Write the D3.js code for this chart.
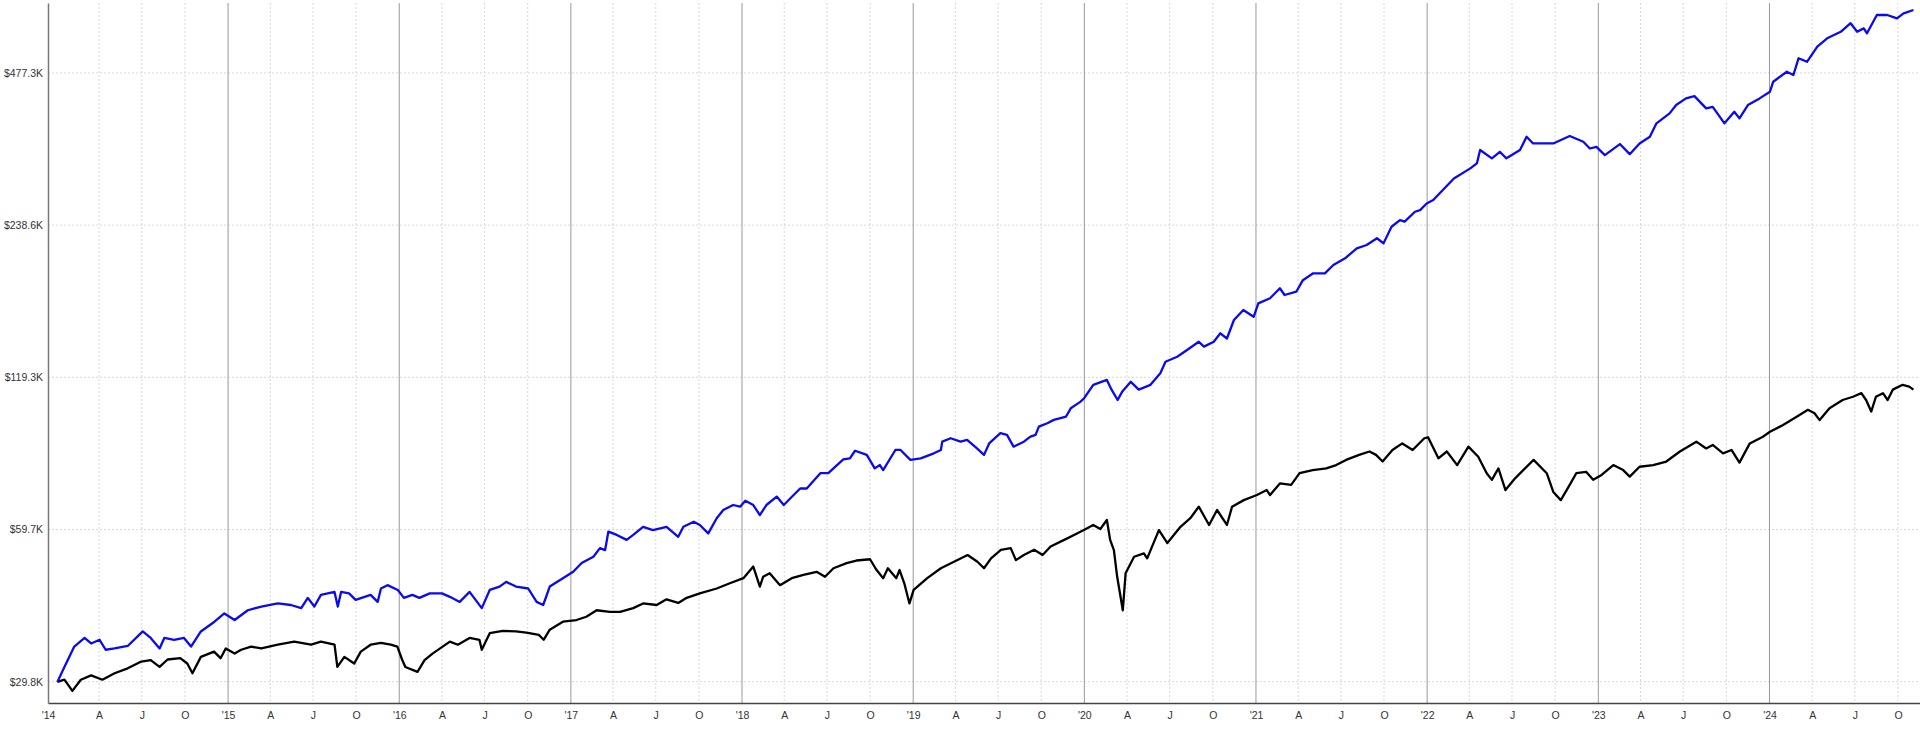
<!DOCTYPE html>
<html>
<head>
<meta charset="utf-8">
<script src="https://cdnjs.cloudflare.com/ajax/libs/d3/7.8.5/d3.min.js"></script>
<style>
  body { margin: 0; background: #fff; }
  svg { display: block; }
  .axis text { font-family: "Liberation Sans", Arial, sans-serif; font-size: 10.5px; fill: #333; }
</style>
</head>
<body>
<div id="chart"></div>
<script>
// values in $K
var portfolio = [
  ["2014-01-02",29.8],["2014-01-17",31.9],["2014-02-07",35.0],["2014-03-01",36.4],["2014-03-15",35.5],
  ["2014-04-02",36.1],["2014-04-15",34.5],["2014-05-04",34.7],["2014-06-01",35.1],["2014-07-03",37.5],
  ["2014-07-20",36.4],["2014-08-08",34.7],["2014-08-18",36.4],["2014-09-08",36.1],["2014-09-29",36.4],
  ["2014-10-14",35.0],["2014-11-04",37.5],["2014-12-03",39.2],["2014-12-24",40.7],["2015-01-15",39.5],
  ["2015-02-12",41.3],["2015-03-13",42.0],["2015-04-17",42.6],["2015-05-15",42.3],["2015-06-06",41.7],
  ["2015-06-20",43.7],["2015-07-04",42.0],["2015-07-18",44.3],["2015-08-16",44.9],["2015-08-23",42.0],
  ["2015-08-30",44.9],["2015-09-16",44.6],["2015-09-30",43.3],["2015-11-01",44.3],["2015-11-16",42.9],
  ["2015-11-23",45.6],["2015-12-07",46.3],["2015-12-29",45.3],["2016-01-11",43.7],["2016-01-29",44.3],
  ["2016-02-13",43.7],["2016-03-06",44.6],["2016-04-01",44.6],["2016-04-18",43.9],["2016-05-09",42.9],
  ["2016-05-30",44.9],["2016-06-25",41.7],["2016-07-12",45.3],["2016-08-02",46.0],["2016-08-16",47.0],
  ["2016-09-06",46.0],["2016-10-02",45.6],["2016-10-20",42.9],["2016-11-03",42.3],["2016-11-17",46.0],
  ["2016-12-15",47.8],["2017-01-06",49.2],["2017-01-24",51.2],["2017-02-18",52.7],["2017-03-04",54.8],
  ["2017-03-15",54.3],["2017-03-22",59.1],["2017-04-09",58.2],["2017-04-30",56.9],["2017-05-14",58.2],
  ["2017-06-04",60.4],["2017-06-25",59.5],["2017-07-24",60.4],["2017-08-18",57.7],["2017-08-29",60.4],
  ["2017-09-20",61.8],["2017-10-03",60.9],["2017-10-21",58.6],["2017-11-08",62.8],["2017-11-22",65.2],
  ["2017-12-13",66.7],["2017-12-28",66.2],["2018-01-08",68.0],["2018-01-25",66.7],["2018-02-08",63.7],
  ["2018-02-22",66.7],["2018-03-16",69.3],["2018-03-31",66.7],["2018-04-21",69.8],["2018-05-05",71.9],
  ["2018-05-19",71.9],["2018-06-17",77.1],["2018-07-04",77.1],["2018-07-15",78.8],["2018-08-05",82.1],
  ["2018-08-19",82.5],["2018-08-30",85.4],["2018-09-24",83.8],["2018-10-11",78.8],["2018-10-22",80.0],
  ["2018-10-29",78.2],["2018-11-24",85.7],["2018-12-05",85.7],["2018-12-26",81.9],["2019-01-17",82.5],
  ["2019-02-14",84.4],["2019-03-01",85.7],["2019-03-04",89.0],["2019-03-22",90.4],["2019-04-12",89.0],
  ["2019-04-26",89.7],["2019-05-17",86.3],["2019-06-01",83.8],["2019-06-12",88.3],["2019-07-06",92.5],
  ["2019-07-20",91.8],["2019-08-03",87.0],["2019-08-25",89.0],["2019-09-08",91.1],["2019-09-19",91.8],
  ["2019-09-26",95.3],["2019-10-14",96.8],["2019-10-28",98.3],["2019-11-23",99.8],["2019-12-03",103.6],
  ["2019-12-24",106.8],["2020-01-01",108.6],["2020-01-20",115.3],["2020-02-18",117.9],["2020-02-28",112.8],
  ["2020-03-12",107.6],["2020-03-22",111.9],["2020-04-09",116.9],["2020-04-26",112.8],["2020-05-21",115.3],
  ["2020-06-11",121.5],["2020-06-22",128.1],["2020-07-17",131.0],["2020-08-07",135.1],["2020-09-01",140.3],
  ["2020-09-12",137.2],["2020-10-03",140.3],["2020-10-17",145.8],["2020-10-31",142.4],["2020-11-15",154.9],
  ["2020-12-05",162.1],["2020-12-27",157.2],["2021-01-06",167.1],["2021-01-31",171.0],["2021-02-21",179.0],
  ["2021-03-03",173.6],["2021-03-28",176.2],["2021-04-11",185.7],["2021-05-03",191.6],["2021-05-28",191.6],
  ["2021-06-15",199.0],["2021-07-10",205.2],["2021-08-04",214.7],["2021-08-25",218.0],["2021-09-16",224.8],
  ["2021-09-30",219.6],["2021-10-17",236.9],["2021-11-04",244.2],["2021-11-14",242.4],["2021-12-06",253.6],
  ["2021-12-17",255.5],["2021-12-31",263.4],["2022-01-14",267.5],["2022-02-27",295.2],["2022-04-03",309.0],
  ["2022-04-17",316.1],["2022-04-24",336.0],["2022-05-19",323.5],["2022-06-05",333.3],["2022-06-19",323.5],
  ["2022-07-18",336.0],["2022-08-01",356.9],["2022-08-15",346.2],["2022-09-27",346.2],["2022-11-01",358.1],
  ["2022-11-30",348.8],["2022-12-14",338.3],["2022-12-28",340.9],["2023-01-15",328.3],["2023-02-16",345.2],
  ["2023-03-09",329.7],["2023-03-30",346.2],["2023-04-21",356.9],["2023-05-05",379.4],["2023-06-02",397.0],
  ["2023-06-16",412.3],["2023-07-07",425.0],["2023-07-25",429.5],["2023-08-19",406.1],["2023-09-02",409.0],
  ["2023-09-27",379.4],["2023-10-18",399.9],["2023-10-29",388.0],["2023-11-16",412.3],["2023-12-11",425.0],
  ["2024-01-02",438.1],["2024-01-09",458.6],["2024-02-07",479.9],["2024-02-21",472.8],["2024-03-03",510.2],
  ["2024-03-21",502.1],["2024-04-12",537.9],["2024-05-03",558.9],["2024-06-01",575.6],["2024-06-22",598.5],
  ["2024-07-06",575.6],["2024-07-20",584.7],["2024-07-27",571.8],["2024-08-17",621.4],["2024-09-08",621.4],
  ["2024-09-29",611.9],["2024-10-13",626.2],["2024-11-03",635.8]
];

var benchmark = [
  ["2014-01-02",29.8],["2014-01-17",30.1],["2014-02-03",28.6],["2014-02-21",30.1],["2014-03-15",30.7],
  ["2014-04-08",30.1],["2014-05-04",31.0],["2014-06-01",31.7],["2014-06-30",32.7],["2014-07-20",32.9],
  ["2014-08-08",31.9],["2014-08-25",33.0],["2014-09-21",33.2],["2014-10-06",32.4],["2014-10-17",31.0],
  ["2014-11-04",33.4],["2014-12-02",34.2],["2014-12-16",33.2],["2014-12-27",34.7],["2015-01-15",33.9],
  ["2015-01-29",34.5],["2015-02-19",35.0],["2015-03-13",34.7],["2015-04-17",35.3],["2015-05-22",35.8],
  ["2015-06-27",35.3],["2015-07-18",35.8],["2015-08-16",35.3],["2015-08-22",31.9],["2015-09-06",33.4],
  ["2015-09-27",32.4],["2015-10-11",34.2],["2015-11-01",35.3],["2015-11-23",35.6],["2015-12-14",35.3],
  ["2015-12-28",35.0],["2016-01-07",33.0],["2016-01-14",31.9],["2016-02-09",31.2],["2016-02-24",32.9],
  ["2016-03-12",33.9],["2016-04-18",35.8],["2016-05-05",35.3],["2016-05-30",36.4],["2016-06-20",36.1],
  ["2016-06-25",34.5],["2016-07-12",37.2],["2016-08-09",37.6],["2016-09-06",37.5],["2016-09-28",37.3],
  ["2016-10-25",36.9],["2016-11-04",36.1],["2016-11-17",37.8],["2016-12-15",39.2],["2017-01-13",39.5],
  ["2017-02-03",40.1],["2017-02-25",41.3],["2017-03-25",41.0],["2017-04-16",41.0],["2017-05-14",41.7],
  ["2017-06-04",42.6],["2017-07-03",42.3],["2017-07-24",43.4],["2017-08-18",42.7],["2017-09-05",43.7],
  ["2017-10-03",44.6],["2017-11-08",45.6],["2017-12-06",46.7],["2018-01-04",47.8],["2018-01-25",50.4],
  ["2018-02-08",46.0],["2018-02-15",48.1],["2018-03-01",48.9],["2018-03-23",46.3],["2018-04-17",47.8],
  ["2018-05-12",48.5],["2018-06-09",49.2],["2018-06-27",48.1],["2018-07-15",50.0],["2018-08-12",51.2],
  ["2018-09-02",51.8],["2018-10-01",52.1],["2018-10-15",49.6],["2018-10-29",47.8],["2018-11-08",50.0],
  ["2018-11-26",47.8],["2018-12-03",49.6],["2018-12-13",46.7],["2018-12-24",42.6],["2019-01-02",45.3],
  ["2019-01-31",47.8],["2019-03-01",50.0],["2019-03-29",51.5],["2019-04-27",53.1],["2019-05-18",51.5],
  ["2019-06-01",50.0],["2019-06-16",52.3],["2019-07-07",54.4],["2019-07-28",54.8],["2019-08-08",51.9],
  ["2019-08-25",53.1],["2019-09-16",54.4],["2019-10-04",53.1],["2019-10-21",55.2],["2019-11-19",56.9],
  ["2019-12-10",58.2],["2019-12-31",59.5],["2020-01-20",60.9],["2020-02-04",59.8],["2020-02-18",62.3],
  ["2020-02-25",56.9],["2020-03-04",54.3],["2020-03-11",48.1],["2020-03-23",41.3],["2020-03-29",48.9],
  ["2020-04-16",52.7],["2020-05-07",53.5],["2020-05-14",52.3],["2020-06-08",59.5],["2020-06-26",56.1],
  ["2020-07-24",60.4],["2020-08-14",62.8],["2020-09-01",66.2],["2020-09-23",60.9],["2020-10-10",65.2],
  ["2020-10-31",60.9],["2020-11-11",66.2],["2020-12-06",68.2],["2021-01-03",69.8],["2021-01-24",71.4],
  ["2021-01-31",69.8],["2021-02-21",73.6],["2021-03-17",73.1],["2021-04-04",77.1],["2021-05-02",78.2],
  ["2021-05-31",78.8],["2021-06-21",80.0],["2021-07-12",81.9],["2021-08-09",83.8],["2021-08-31",85.1],
  ["2021-09-14",83.8],["2021-09-28",81.3],["2021-10-19",85.7],["2021-11-09",88.3],["2021-12-01",85.7],
  ["2021-12-26",90.4],["2022-01-03",90.8],["2022-01-25",82.5],["2022-02-12",85.1],["2022-03-06",80.0],
  ["2022-03-30",87.0],["2022-04-20",83.1],["2022-05-08",77.1],["2022-05-19",74.8],["2022-06-02",78.8],
  ["2022-06-17",71.4],["2022-07-08",75.4],["2022-08-16",81.9],["2022-09-13",77.1],["2022-09-27",70.8],
  ["2022-10-13",68.2],["2022-11-01",73.1],["2022-11-15",77.1],["2022-12-06",77.6],["2022-12-21",74.8],
  ["2023-01-08",76.5],["2023-02-02",80.0],["2023-02-23",78.2],["2023-03-09",75.9],["2023-03-30",79.4],
  ["2023-04-28",80.0],["2023-05-26",81.3],["2023-06-24",85.1],["2023-07-29",89.0],["2023-08-19",86.3],
  ["2023-09-02",87.7],["2023-09-24",84.4],["2023-10-12",85.7],["2023-10-29",80.9],["2023-11-20",88.3],
  ["2023-12-18",91.0],["2024-01-02",93.1],["2024-01-30",96.0],["2024-02-28",99.7],["2024-03-23",102.9],
  ["2024-04-06",101.3],["2024-04-17",98.2],["2024-05-08",103.6],["2024-06-05",107.6],["2024-06-27",109.2],
  ["2024-07-15",111.0],["2024-07-25",107.6],["2024-08-05",102.1],["2024-08-15",109.2],["2024-08-30",111.0],
  ["2024-09-09",107.6],["2024-09-20",112.8],["2024-10-11",115.3],["2024-10-25",114.4],["2024-11-03",112.8]
];

var yTickValues = [29.83, 59.66, 119.32, 238.64, 477.28];
var yTickLabels = ["$29.8K", "$59.7K", "$119.3K", "$238.6K", "$477.3K"];
var quarterLabels = ["'", "A", "J", "O"]; // jan gets the year
var xStart = "2013-12-13", xEnd = "2024-11-17";

var width = 1920,
    height = 731,
    margin = {top: 3, right: 0, bottom: 28, left: 48};

var parse = d3.timeParse("%Y-%m-%d");

var svg = d3.select("#chart").append("svg")
    .attr("width", width)
    .attr("height", height);

var x = d3.scaleTime()
    .domain([parse(xStart), parse(xEnd)])
    .range([margin.left, width - margin.right]);

var y = d3.scaleLog()
    .domain([27.07, 656.3])
    .range([height - margin.bottom, margin.top]);

var quarters = d3.timeMonth.every(3).range(new Date(2014, 3, 1), new Date(2024, 11, 1));
var years = quarters.filter(function(d) { return d.getMonth() === 0; });
var minor = quarters.filter(function(d) { return d.getMonth() !== 0; });

// grid
svg.append("g")
  .selectAll("line")
    .data(yTickValues)
  .enter().append("line")
    .attr("x1", margin.left)
    .attr("x2", width - margin.right)
    .attr("y1", function(d) { return y(d); })
    .attr("y2", function(d) { return y(d); })
    .style("stroke", "#d8d8d8")
    .style("stroke-dasharray", "2,2");

svg.append("g")
  .selectAll("line")
    .data(minor)
  .enter().append("line")
    .attr("x1", function(d) { return x(d); })
    .attr("x2", function(d) { return x(d); })
    .attr("y1", margin.top)
    .attr("y2", height - margin.bottom)
    .style("stroke", "#d8d8d8")
    .style("stroke-dasharray", "2,2");

svg.append("g")
  .selectAll("line")
    .data(years)
  .enter().append("line")
    .attr("x1", function(d) { return x(d); })
    .attr("x2", function(d) { return x(d); })
    .attr("y1", margin.top)
    .attr("y2", height - margin.bottom)
    .style("stroke", "#999")
    .style("stroke-width", 1);

// axes
var xTicks = [x.domain()[0]].concat(quarters);

svg.append("g")
    .attr("class", "axis x")
    .attr("transform", "translate(0," + (height - margin.bottom) + ")")
    .call(d3.axisBottom(x)
      .tickValues(xTicks)
      .tickSize(0)
      .tickPadding(9)
      .tickFormat(function(d, i) {
        if (i === 0) return "'14";
        var m = d.getMonth() / 3;
        return m === 0 ? "'" + d3.timeFormat("%y")(d) : quarterLabels[m];
      }))
    .call(function(g) { g.select(".domain").style("stroke", "#444").style("stroke-width", 1.5); });

svg.append("g")
    .attr("class", "axis y")
    .attr("transform", "translate(" + margin.left + ",0)")
    .call(d3.axisLeft(y)
      .tickValues(yTickValues)
      .tickSize(0)
      .tickPadding(5)
      .tickFormat(function(d, i) { return yTickLabels[i]; }))
    .call(function(g) { g.select(".domain").style("stroke", "#777").style("stroke-width", 1.5); });

var line = d3.line()
    .x(function(d) { return x(parse(d[0])); })
    .y(function(d) { return y(d[1]); });

svg.append("path")
    .datum(benchmark)
    .attr("d", line)
    .style("fill", "none")
    .style("stroke", "#000")
    .style("stroke-width", 2.3)
    .style("stroke-linejoin", "round");

svg.append("path")
    .datum(portfolio)
    .attr("d", line)
    .style("fill", "none")
    .style("stroke", "#0a0aee")
    .style("stroke-width", 2.3)
    .style("stroke-linejoin", "round");
</script>
</body>
</html>
